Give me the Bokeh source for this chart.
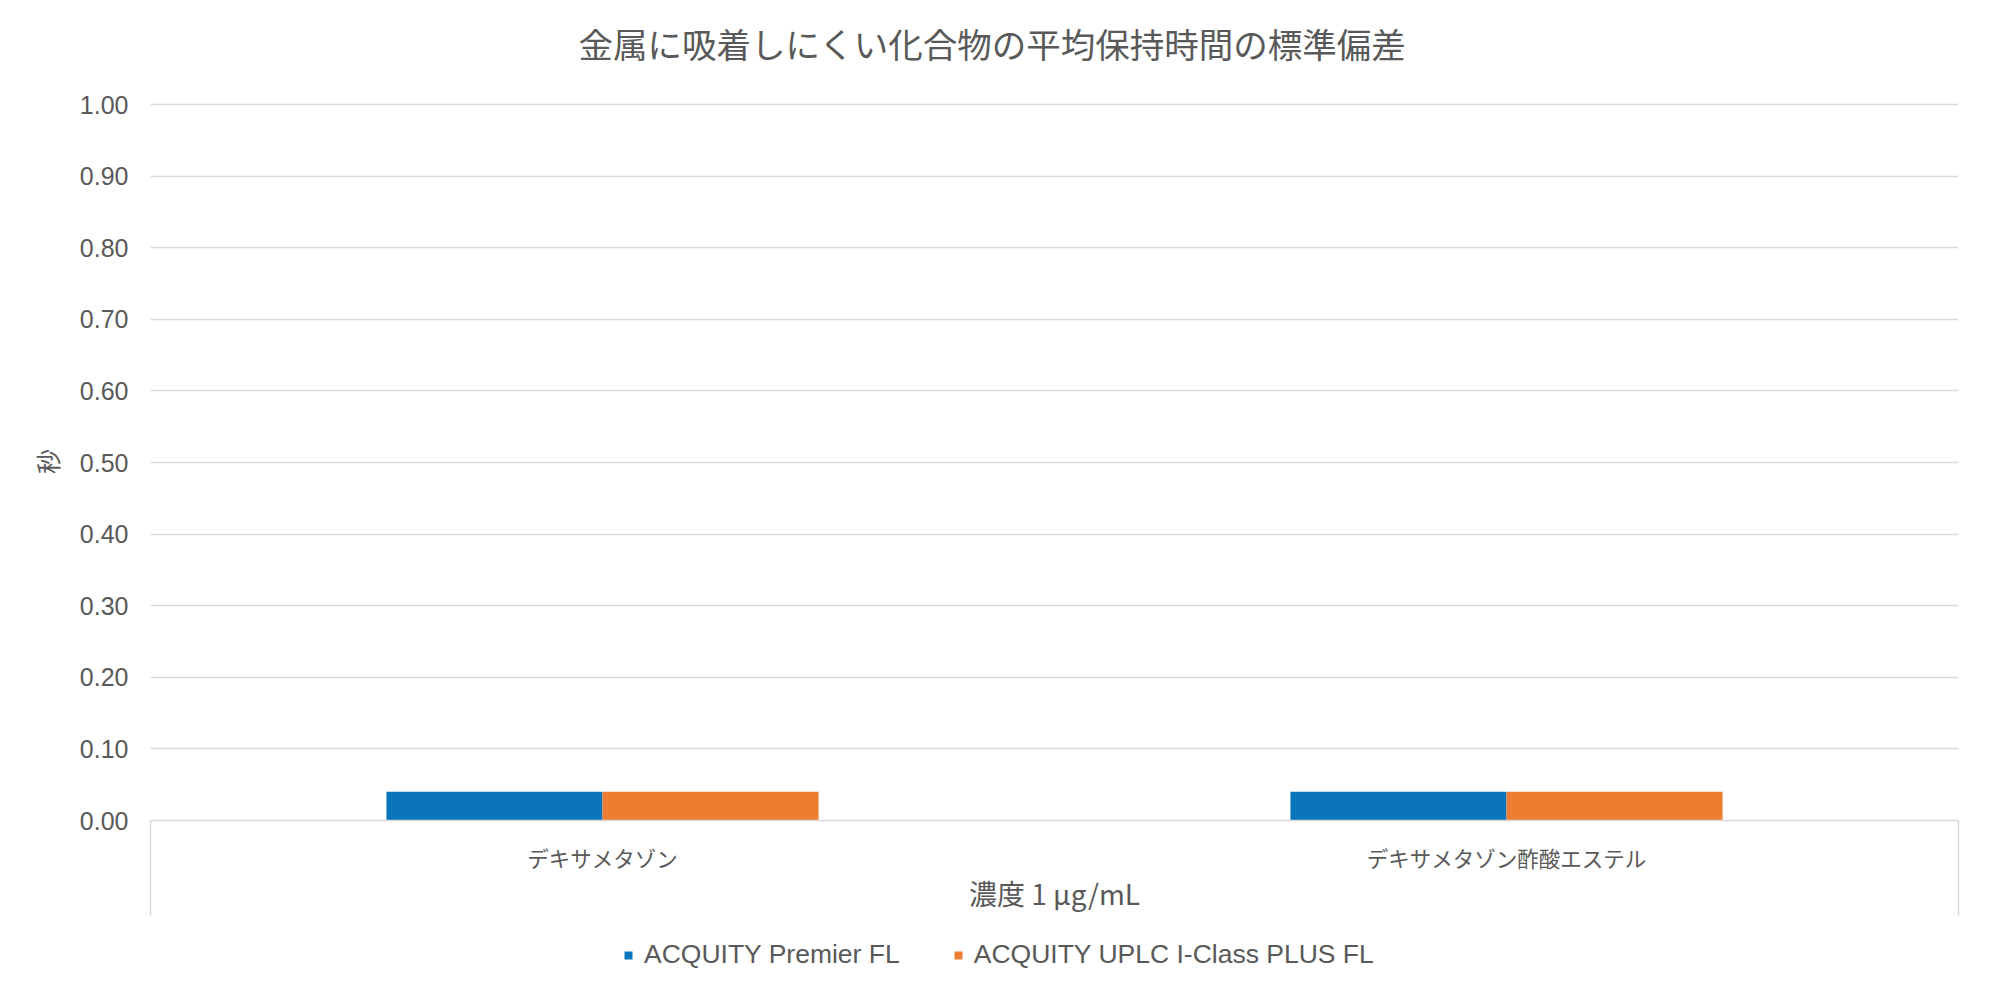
from bokeh.plotting import figure
from bokeh.layouts import column
from bokeh.models import (Range1d, FixedTicker, Legend, LegendItem,
                          ColumnDataSource)
from bokeh.transform import dodge
from bokeh.embed import file_html
from bokeh.resources import INLINE

# ---------------- data ----------------
title_text = "金属に吸着しにくい化合物の平均保持時間の標準偏差"
categories = ["デキサメタゾン", "デキサメタゾン酢酸エステル"]
series_names = ["ACQUITY Premier FL", "ACQUITY UPLC I-Class PLUS FL"]
premier_fl = [0.04, 0.04]
iclass_plus_fl = [0.04, 0.04]
y_ticks = [0.0, 0.1, 0.2, 0.3, 0.4, 0.5, 0.6, 0.7, 0.8, 0.9, 1.0]
y_tick_labels = ["0.00", "0.10", "0.20", "0.30", "0.40", "0.50",
                 "0.60", "0.70", "0.80", "0.90", "1.00"]
x_axis_title = "濃度 1 µg/mL"
y_axis_title = "秒"

# ---------------- style ----------------
BLUE = "#0B75BB"
ORANGE = "#ED7D31"
TEXT = "#595959"
GRID = "#D9D9D9"
LATIN = "Liberation Sans"
CJK = "Noto Sans CJK JP"

W = 1984
H_TITLE = 86
TOP_PAD = 16
FRAME_H = 718          # pixel height of the plotting frame
UNIT_PX = 716          # pixels per 1.0 on the value axis
BOTTOM = 105
H_MAIN = TOP_PAD + FRAME_H + BOTTOM
H_LEG = 53


def strip(height):
    f = figure(width=W, height=height, x_range=Range1d(0, 1), y_range=Range1d(0, 1),
               output_backend="svg", toolbar_location=None,
               x_axis_location=None, y_axis_location=None, min_border=0)
    f.outline_line_color = None
    f.center = []          # no grid lines in the strips
    f.frame_align = False
    return f


# ---------------- title strip ----------------
top = strip(H_TITLE)
top.title.text = title_text
top.title.align = "left"
top.title.offset = 578
top.title.text_font = CJK
top.title.text_font_size = "34.5px"
top.title.text_font_style = "normal"
top.title.text_color = TEXT
top.title.standoff = 30

# ---------------- main chart ----------------
n = len(categories)
x_centers = [i + 0.5 for i in range(n)]
src = ColumnDataSource(dict(x=x_centers, premier=premier_fl, iclass=iclass_plus_fl))

p = figure(width=W, height=H_MAIN,
           x_range=Range1d(0, n), y_range=Range1d(0, FRAME_H / UNIT_PX),
           output_backend="svg", toolbar_location=None,
           min_border_left=150, min_border_right=26,
           min_border_top=TOP_PAD, min_border_bottom=BOTTOM)
p.outline_line_color = None
p.background_fill_color = "white"

bar_w = 0.239
r1 = p.vbar(x=dodge("x", -bar_w / 2, range=p.x_range), top="premier", width=bar_w,
            source=src, fill_color=BLUE, line_color=None)
r2 = p.vbar(x=dodge("x", bar_w / 2, range=p.x_range), top="iclass", width=bar_w,
            source=src, fill_color=ORANGE, line_color=None)

# y axis
yax = p.yaxis[0]
yax.ticker = FixedTicker(ticks=y_ticks, minor_ticks=[])
yax.major_label_overrides = {t: l for t, l in zip(y_ticks, y_tick_labels)}
yax.axis_line_color = None
yax.major_tick_line_color = None
yax.minor_tick_line_color = None
yax.major_label_text_font = LATIN
yax.major_label_text_font_size = "25px"
yax.major_label_text_color = TEXT
yax.major_label_standoff = 16
yax.axis_label = y_axis_title
yax.axis_label_text_font = CJK
yax.axis_label_text_font_size = "25px"
yax.axis_label_text_font_style = "normal"
yax.axis_label_text_color = TEXT
yax.axis_label_standoff = 12

# x axis (category labels; outer box edges drawn as long minor ticks)
BOX_DEPTH = 95
xax = p.xaxis[0]
xax.ticker = FixedTicker(ticks=x_centers, minor_ticks=[0, n])
xax.major_label_overrides = {x: c for x, c in zip(x_centers, categories)}
xax.axis_line_color = GRID
xax.axis_line_width = 1.5
xax.major_tick_line_color = None
xax.minor_tick_line_color = GRID
xax.minor_tick_line_width = 1.5
xax.minor_tick_in = 0
xax.minor_tick_out = BOX_DEPTH
xax.major_label_text_font = CJK
xax.major_label_text_font_size = "21.5px"
xax.major_label_text_color = TEXT
xax.major_label_standoff = 21 - BOX_DEPTH
xax.axis_label = x_axis_title
xax.axis_label_text_font = CJK
xax.axis_label_text_font_size = "28px"
xax.axis_label_text_font_style = "normal"
xax.axis_label_text_color = TEXT
xax.axis_label_standoff = -3

# grid
p.xgrid.grid_line_color = None
p.ygrid.ticker = FixedTicker(ticks=y_ticks)
p.ygrid.grid_line_color = GRID
p.ygrid.grid_line_width = 1.5

# ---------------- legend strip ----------------
leg = strip(H_LEG)
# swatch-only renderers: a zero-height bar, so nothing is drawn in the strip itself
swatch = ColumnDataSource(dict(x=[0.5], top=[0.0]))
l1 = leg.vbar(x="x", top="top", bottom=0.0, width=0.0, source=swatch,
              fill_color=BLUE, line_color=None)
l2 = leg.vbar(x="x", top="top", bottom=0.0, width=0.0, source=swatch,
              fill_color=ORANGE, line_color=None)
legend = Legend(items=[LegendItem(label=series_names[0], renderers=[l1]),
                       LegendItem(label=series_names[1], renderers=[l2])],
                orientation="horizontal", location=(623, 8),
                glyph_width=10, glyph_height=10,
                label_text_font=LATIN, label_text_font_size="26.5px",
                label_text_color=TEXT, label_standoff=11, spacing=53,
                border_line_color=None, background_fill_alpha=0,
                padding=0, margin=0)
leg.add_layout(legend)

layout = column(top, p, leg, spacing=0)
open("out.html", "w").write(file_html(layout, INLINE))
